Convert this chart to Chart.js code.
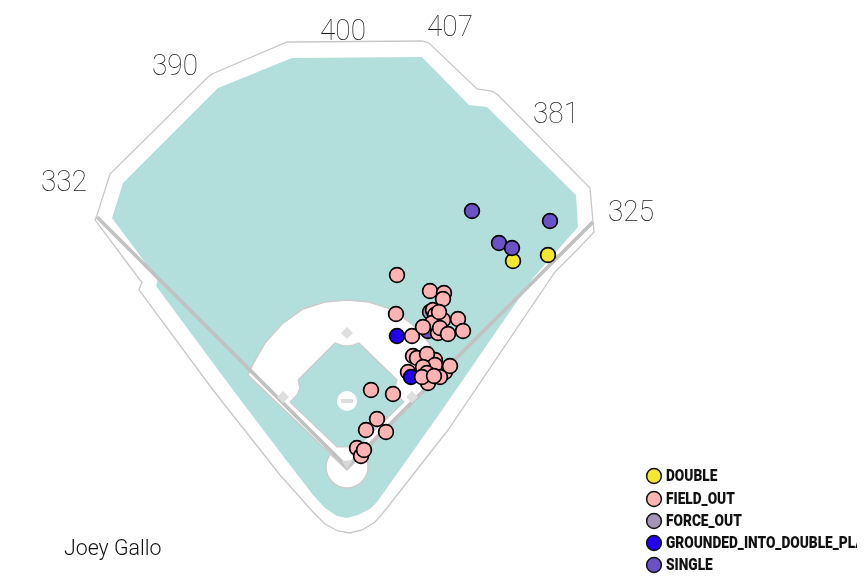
<!DOCTYPE html>
<html>
<head>
<meta charset="utf-8">
<title>Joey Gallo spray chart</title>
<script src="https://cdn.jsdelivr.net/npm/chart.js@4"></script>
<style>
  html, body { margin: 0; background: #fff; }
  #box { width: 865px; height: 587px; }
</style>
</head>
<body>
<div id="box"><canvas id="sprayChart" width="865" height="587"></canvas></div>
<script>
// ballpark outlines, same units as the hit coordinates
const wallX = [97,110,208,212,287,293,422,429,477,492,498,590,593,594,577,555,448,383,375,362,350,338,325,313,280,213,139,142,140,95,97];
const wallY = [215,174,77,74,42,42,41,43,89,91,95,188,222,232,250,272,430,513,522,530,533,531,524,512,475,390,290,282,280,220,215];
const grassX = [112,123,218,292,422,469,487,576,578,533,520,440,377,370,358,347,337,325,313,280,233,156,158,147,112];
const grassY = [218,183,88,58,57,105,107,195,227,278,297,413,502,509,515,518,516,508,495,452,390,286,278,265,218];
const dirtX = [248,254,265,282,303,325,347,369,391,412,429,440,446,347,248];
const dirtY = [375,362,343,324,309,302,300,302,309,324,343,362,370,470,375];
const diamondX = [290,297,300,298,335,341,347,353,359,397,395,397,404,357,337,290];
const diamondY = [402,395,388,380,343,345,346,345,343,380,388,395,402,447,447,402];
const foulX = [97,347,593];
const foulY = [217,467,222];
const plateX = [342,353,347,342];
const plateY = [461,460,469,461];

const baseX = [347,283,412];
const baseY = [333,397,397];

const wallLabels = ['332','390','400','407','381','325'];
const wallLabelX = [64,175,343,450,556,631];
const wallLabelY = [183,67,32,28,115,213];

const eventNames = ['DOUBLE','FIELD_OUT','FORCE_OUT','GROUNDED_INTO_DOUBLE_PLAY','SINGLE'];
const eventColors = ['#f5e72e','#ffb3b3','#a394b8','#2200f0','#6a52c6'];

// hits in drawing order, later ones sit on top
const hitX = [430,428,513,548,472,550,499,512,397,397,396,412,430,444,443,433,435,443,458,463,432,438,423,440,448,439,408,411,445,435,413,417,427,435,423,450,427,428,440,422,434,371,393,377,366,386,357,361,364];
const hitY = [312,331,261,255,211,221,243,248,336,275,314,336,291,293,299,310,315,320,319,331,323,333,327,328,334,312,372,377,372,360,356,358,354,365,367,366,373,383,377,377,376,390,394,419,430,432,448,456,450];
const hitEvent = [2,4,0,0,4,4,4,4,3,1,1,1,1,1,1,1,1,1,1,1,1,1,1,1,1,1,1,3,1,1,1,1,1,1,1,1,1,1,1,1,1,1,1,1,1,1,1,1,1];

const playerName = 'Joey Gallo';

function xy(xs, ys) {
  return xs.map((x, i) => ({ x: x, y: ys[i] }));
}

function shape(xs, ys, fillColor, lineColor, lineWidth) {
  return {
    data: xy(xs, ys),
    showLine: true,
    fill: fillColor ? 'shape' : false,
    backgroundColor: fillColor || 'transparent',
    borderColor: lineColor,
    borderWidth: lineWidth,
    pointRadius: 0
  };
}

function spot(xs, ys, style, radius, fillColor, lineColor, lineWidth) {
  return {
    data: xy(xs, ys),
    showLine: false,
    pointStyle: style,
    pointRadius: radius,
    pointBackgroundColor: fillColor,
    pointBorderColor: lineColor,
    pointBorderWidth: lineWidth
  };
}

const layers = [
  shape(wallX, wallY, '#ffffff', '#c8c8c8', 1.3),
  shape(grassX, grassY, '#b2dfdb', '#b2dfdb', 0),
  spot([347], [467], 'circle', 21, '#ffffff', '#cccccc', 1.5),
  shape(dirtX, dirtY, '#ffffff', '#cccccc', 1.5),
  shape(diamondX, diamondY, '#b2dfdb', '#cccccc', 1.2),
  shape(foulX, foulY, null, '#c2c2c2', 3.8),
  shape(plateX, plateY, '#d9d9d9', '#d9d9d9', 0),
  spot([347], [401], 'circle', 10, '#ffffff', '#ffffff', 0),
  spot([347], [401], 'line', 6, '#dddddd', '#dddddd', 4),
  spot(baseX, baseY, 'rectRot', 6, '#dedede', '#dedede', 0),
  spot(hitX, hitY, 'circle', 7.4, hitEvent.map(e => eventColors[e]), '#000000', 1.7)
];
// chart.js paints high order first
layers.forEach((d, i) => { d.order = layers.length - i; });

function squeezed(ctx, text, x, y, sx) {
  ctx.save();
  ctx.translate(x, y);
  ctx.scale(sx, 1);
  ctx.fillText(text, 0, 0);
  ctx.restore();
}

const annotations = {
  id: 'annotations',
  afterDatasetsDraw(chart) {
    const ctx = chart.ctx;
    const sx = chart.scales.x, sy = chart.scales.y;

    ctx.save();
    ctx.textBaseline = 'middle';
    ctx.textAlign = 'center';
    ctx.font = '100 30px Roboto';
    ctx.fillStyle = '#222222';
    wallLabels.forEach((t, i) => {
      squeezed(ctx, t, sx.getPixelForValue(wallLabelX[i]), sy.getPixelForValue(wallLabelY[i]), 0.93);
    });

    ctx.textAlign = 'left';
    ctx.font = '300 22px Roboto';
    ctx.fillStyle = '#111111';
    squeezed(ctx, playerName, sx.getPixelForValue(64), sy.getPixelForValue(549), 0.97);

    // legend, runs off the right edge like the original
    ctx.beginPath();
    ctx.rect(0, 0, 857, 587);
    ctx.clip();
    const rowY = [476, 499, 521, 543, 565];
    eventNames.forEach((name, i) => {
      ctx.beginPath();
      ctx.arc(654, rowY[i], 7.4, 0, Math.PI * 2);
      ctx.fillStyle = eventColors[i];
      ctx.fill();
      ctx.lineWidth = 1.5;
      ctx.strokeStyle = '#111111';
      ctx.stroke();
      ctx.font = '900 16.5px Roboto';
      ctx.fillStyle = '#111111';
      squeezed(ctx, name, 666, rowY[i] + 0.5, 0.83);
    });
    ctx.restore();
  }
};

new Chart(document.getElementById('sprayChart').getContext('2d'), {
  type: 'scatter',
  data: { datasets: layers },
  plugins: [annotations],
  options: {
    responsive: false,
    animation: false,
    layout: { padding: 0, autoPadding: false },
    elements: { line: { tension: 0 } },
    scales: {
      x: { type: 'linear', min: 0, max: 865, display: false },
      y: { type: 'linear', min: 0, max: 587, reverse: true, display: false }
    },
    plugins: {
      legend: { display: false },
      tooltip: { enabled: false }
    }
  }
});
</script>
</body>
</html>
